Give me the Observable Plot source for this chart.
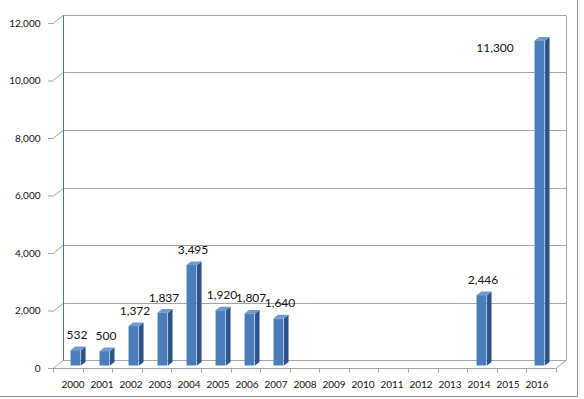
<!DOCTYPE html>
<html><head><meta charset="utf-8">
<script src="https://cdn.jsdelivr.net/npm/d3@7"></script>
<script src="https://cdn.jsdelivr.net/npm/@observablehq/plot@0.6"></script>
<style>
body{margin:0;background:#fff}
#chart svg{display:block}
</style>
</head><body><div id="chart"></div>
<script>
const years = ["2000","2001","2002","2003","2004","2005","2006","2007","2008","2009","2010","2011","2012","2013","2014","2015","2016"];
const values = [532,500,1372,1837,3495,1920,1807,1640,null,null,null,null,null,null,2446,null,11300];
const yTicks = [0,2000,4000,6000,8000,10000,12000];

const data = years.map((year,i)=>({year, value: values[i]})).filter(d=>d.value!=null);
const fmt = d3.format(",");

const W=584, H=399, mL=53, mR=28, mT=23, mB=31;
const DX=10, DY=-8;        // wall depth offset
const BX=3, BY=-2.5;       // bar offset from front plane
const FW=10.5;             // bar front width
const BD=4.5, BDY=-3.6;    // bar depth
const gridColor="#a3a3a3", wallBlue="#4f6fa8";

function bandW(dims){ return (dims.width - dims.marginLeft - dims.marginRight)/years.length; }

function chrome(index, scales, vals, dims){
  const y = scales.y;
  const bw = bandW(dims);
  const x0 = dims.marginLeft, x1 = dims.width - dims.marginRight;
  const y0 = y(0);
  const g = d3.create("svg:g").attr("fill","none").attr("stroke-width",1);
  const line=(a,b,c,d,col)=>g.append("line").attr("x1",a).attr("y1",b).attr("x2",c).attr("y2",d).attr("stroke",col);
  for(const t of yTicks){
    const yt = Math.round(y(t))+0.5;
    line(x0, yt, x0+DX, yt+DY, gridColor);
    line(x0+DX, yt+DY, x1+DX, yt+DY, gridColor);
  }
  const yTop = Math.round(y(yTicks[yTicks.length-1]))+0.5;
  line(x1+DX+0.5, yTop+DY, x1+DX+0.5, Math.round(y0)+0.5+DY, gridColor);
  line(x0+DX+0.5, yTop+DY, x0+DX+0.5, Math.round(y0)+0.5+DY, wallBlue);
  // floor front edge
  const yf = Math.round(y0)+0.5;
  line(x0, yf, x1, yf, gridColor);
  line(x1, yf, x1+DX, yf+DY, gridColor);
  for(let k=0;k<=years.length;k++){
    const xk = Math.round(x0+k*bw)+0.5;
    line(xk, yf, xk, yf+4, gridColor);
  }
  // outer border (right and bottom)
  line(dims.width-6.5, 0, dims.width-6.5, dims.height-2.5, "#8c8c8c");
  line(0, dims.height-2.5, dims.width-6.5, dims.height-2.5, "#8c8c8c");
  return g.node();
}

function barFaces(index, scales, vals, dims){
  const {x, y} = scales;
  const bw = bandW(dims);
  const g = d3.create("svg:g");
  for(const d of data){
    const xc = x(d.year) + bw/2 + BX;
    const xl = xc - FW/2, xr = xc + FW/2;
    const yt = y(d.value) + BY, yb = y(0) + BY;
    g.append("polygon")
      .attr("points", [[xr,yt],[xr+BD,yt+BDY],[xr+BD,yb+BDY],[xr,yb]].map(p=>p.join(",")).join(" "))
      .attr("fill","#2c5288");
    g.append("polygon")
      .attr("points", [[xl,yt],[xl+BD,yt+BDY],[xr+BD,yt+BDY],[xr,yt]].map(p=>p.join(",")).join(" "))
      .attr("fill","#7099cf");
  }
  return g.node();
}

const chart = Plot.plot({
  width: W, height: H,
  marginLeft: mL, marginRight: mR, marginTop: mT, marginBottom: mB,
  style: {fontFamily: "Lato, sans-serif", color: "#111", background: "#fff"},
  x: {domain: years, padding: 0, axis: null},
  y: {domain: [0, 12000], axis: null},
  marks: [
    chrome,
    Plot.axisY(yTicks, {tickFormat: fmt, tickSize: 5, tickPadding: 8, fontSize: 10, stroke: gridColor, label: null}),
    Plot.axisX({tickSize: 0, tickPadding: 12, fontSize: 10, label: null}),
    barFaces,
    Plot.barY(data, {x: "year", y: "value", dx: BX, dy: BY, fill: "#4a7ebb",
      insetLeft: (29.588-FW)/2, insetRight: (29.588-FW)/2}),
    Plot.text(data.filter(d=>d.value<10000), {x: "year", y: "value", text: d=>fmt(d.value), dx: BX+1, dy: -18, fontSize: 12, fill: "#111"}),
    Plot.text(data.filter(d=>d.value>=10000), {x: "year", y: "value", text: d=>fmt(d.value), dx: -42, dy: 4.5, fontSize: 12, fill: "#111"})
  ]
});
document.getElementById("chart").append(chart);
</script>
</body></html>
